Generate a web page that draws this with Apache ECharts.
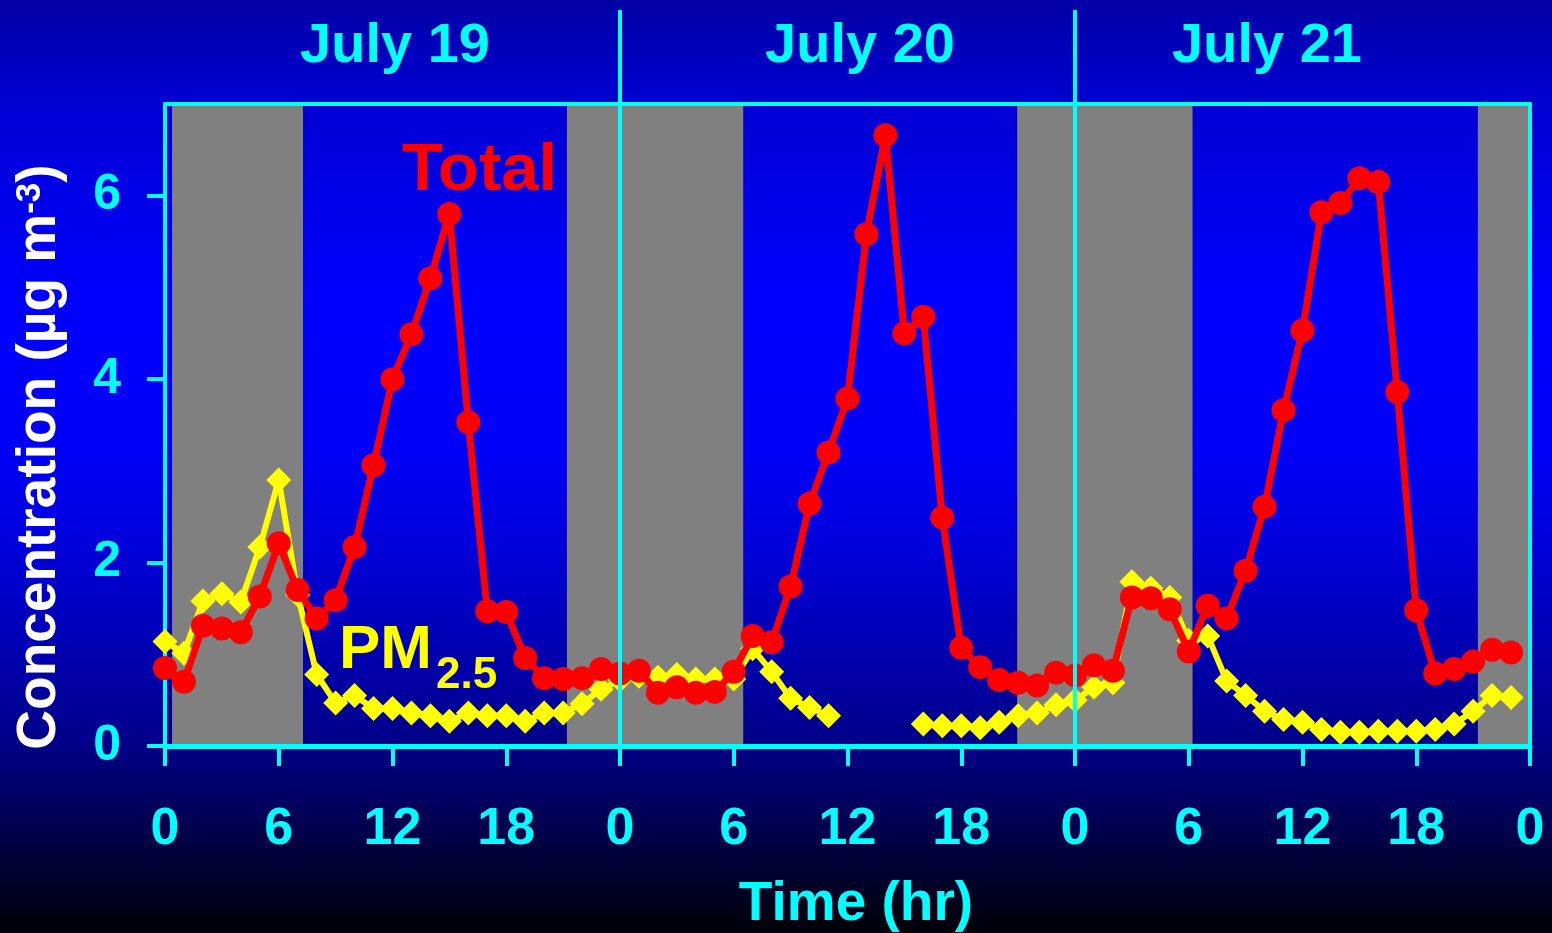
<!DOCTYPE html>
<html><head><meta charset="utf-8">
<script src="https://cdn.jsdelivr.net/npm/echarts@6/dist/echarts.min.js"></script>
<style>html,body{margin:0;padding:0;background:#000010}#c{width:1552px;height:933px}</style>
</head><body><div id="c"></div>
<script>
// ---- data ----
const hours = [0,1,2,3,4,5,6,7,8,9,10,11,12,13,14,15,16,17,18,19,20,21,22,23,
  24,25,26,27,28,29,30,31,32,33,34,35,36,37,38,39,40,41,42,43,44,45,46,47,
  48,49,50,51,52,53,54,55,56,57,58,59,60,61,62,63,64,65,66,67,68,69,70,71];
const totalConc = [0.85,0.70,1.31,1.28,1.24,1.63,2.21,1.70,1.39,1.59,2.17,3.06,4.00,4.49,5.10,5.80,3.53,1.47,1.46,0.96,0.74,0.73,0.74,0.84,
  0.79,0.82,0.58,0.64,0.58,0.59,0.81,1.20,1.13,1.74,2.64,3.20,3.79,5.58,6.66,4.50,4.68,2.49,1.07,0.86,0.72,0.69,0.66,0.80,
  0.77,0.88,0.82,1.62,1.61,1.49,1.03,1.53,1.39,1.91,2.61,3.66,4.53,5.82,5.92,6.19,6.15,3.86,1.48,0.79,0.84,0.92,1.05,1.02];
const pm25Conc = [1.14,1.01,1.58,1.66,1.57,2.17,2.90,1.65,0.78,0.47,0.55,0.41,0.41,0.36,0.33,0.27,0.36,0.33,0.33,0.27,0.36,0.36,0.46,0.62,
  0.72,0.76,0.75,0.78,0.73,0.73,0.73,1.06,0.81,0.52,0.42,0.33,null,null,null,null,0.24,0.22,0.22,0.20,0.26,0.33,0.36,0.45,
  0.50,0.64,0.69,1.79,1.72,1.62,1.15,1.20,0.71,0.55,0.38,0.29,0.26,0.18,0.15,0.15,0.16,0.16,0.16,0.18,0.24,0.38,0.55,0.53];
const nightBands = [[0.37,7.28],[21.2,30.5],[44.95,54.2],[69.25,72]];
const dayDividers = [24,48];
const dayLabels = ['July 19','July 20','July 21'];
const yTickValues = [0,2,4,6];
const seriesNames = ['Total','PM','2.5'];
const yTitleParts = ['Concentration (µg m','-3',')'];
const xTitle = 'Time (hr)';

// ---- chart ----
const FONT = "'Liberation Sans', Arial, Helvetica, sans-serif";
const CYAN = '#00ffff';
const chart = echarts.init(document.getElementById('c'), null, {renderer:'canvas'});

const totalData = hours.map((h,i)=>[h,totalConc[i]]);
const pmData = hours.map((h,i)=>[h,pm25Conc[i]]);

const option = {
  animation:false,
  backgroundColor:{type:'linear',x:0,y:0,x2:0,y2:1,colorStops:[
    {offset:0,color:'#0000a6'},
    {offset:0.11,color:'#0000d2'},
    {offset:0.32,color:'#0000ff'},
    {offset:0.48,color:'#0000f8'},
    {offset:0.58,color:'#0000dc'},
    {offset:0.70,color:'#0000b0'},
    {offset:0.80,color:'#000086'},
    {offset:0.89,color:'#00004c'},
    {offset:1,color:'#000008'}]},
  grid:{left:165,right:22,top:104,bottom:187,containLabel:false},
  xAxis:[{
    type:'value',min:0,max:72,interval:6,position:'bottom',z:3,
    axisLine:{show:true,onZero:false,lineStyle:{color:CYAN,width:5}},
    axisTick:{show:true,inside:false,length:20,lineStyle:{color:CYAN,width:4}},
    axisLabel:{show:true,margin:58,color:CYAN,fontSize:52,fontWeight:'bold',fontFamily:FONT,lineHeight:52,
      formatter:v=>String(v%24)},
    splitLine:{show:false}
  },{
    type:'value',min:0,max:72,position:'top',z:3,
    axisLine:{show:true,onZero:false,lineStyle:{color:CYAN,width:4}},
    axisTick:{show:false},axisLabel:{show:false},splitLine:{show:false}
  }],
  yAxis:[{
    type:'value',min:0,max:7,interval:1,position:'left',z:3,
    axisLine:{show:true,onZero:false,lineStyle:{color:CYAN,width:4}},
    axisTick:{show:true,inside:false,length:18,customValues:yTickValues,lineStyle:{color:CYAN,width:4}},
    axisLabel:{show:true,margin:44,color:CYAN,fontSize:50,fontWeight:'bold',fontFamily:FONT,customValues:yTickValues},
    splitLine:{show:false}
  },{
    type:'value',min:0,max:7,position:'right',z:3,
    axisLine:{show:true,onZero:false,lineStyle:{color:CYAN,width:4}},
    axisTick:{show:false},axisLabel:{show:false},splitLine:{show:false}
  }],
  series:[{
    type:'line',name:'bands',data:[],z:1,silent:true,
    markArea:{silent:true,itemStyle:{color:'#808080',opacity:1},
      data:nightBands.map(b=>[{xAxis:b[0],yAxis:0},{xAxis:b[1],yAxis:7}])}
  },{
    type:'line',name:'PM2.5',data:pmData,z:4,connectNulls:false,
    symbol:'diamond',symbolSize:[25,25],showAllSymbol:true,
    lineStyle:{color:'#ffff00',width:6},itemStyle:{color:'#ffff00'}
  },{
    type:'line',name:'Total',data:totalData,z:5,
    symbol:'circle',symbolSize:24,showAllSymbol:true,
    lineStyle:{color:'#ff0000',width:7},itemStyle:{color:'#ff0000'}
  }]
};
chart.setOption(option);

// overlays (dividers and texts)
const y0 = chart.convertToPixel({yAxisIndex:0},0);
const dayCenters = [395,860,1267];
const graphics = [];
dayDividers.forEach(d=>{
  const x = chart.convertToPixel({xAxisIndex:0},d);
  graphics.push({type:'line',z:10,silent:true,
    shape:{x1:x,y1:10,x2:x,y2:y0},style:{stroke:CYAN,lineWidth:4}});
});
dayLabels.forEach((t,i)=>{
  graphics.push({type:'text',z:10,silent:true,x:dayCenters[i],y:47,
    style:{text:t,fill:CYAN,font:`bold 56px ${FONT}`,align:'center',verticalAlign:'middle'}});
});
graphics.push({type:'text',z:10,silent:true,x:402,y:172,
  style:{text:seriesNames[0],fill:'#ff0000',font:`bold 67px ${FONT}`,align:'left',verticalAlign:'middle'}});
graphics.push({type:'text',z:10,silent:true,x:339,y:651,
  style:{text:seriesNames[1],fill:'#ffff00',font:`bold 62px ${FONT}`,align:'left',verticalAlign:'middle'}});
graphics.push({type:'text',z:10,silent:true,x:436,y:676,
  style:{text:seriesNames[2],fill:'#ffff00',font:`bold 44px ${FONT}`,align:'left',verticalAlign:'middle'}});
graphics.push({type:'text',z:10,silent:true,x:856,y:905,
  style:{text:xTitle,fill:CYAN,font:`bold 55px ${FONT}`,align:'center',verticalAlign:'middle'}});
graphics.push({type:'text',z:10,silent:true,x:40,y:457,rotation:Math.PI/2,
  style:{text:`{m|${yTitleParts[0]}}{s|${yTitleParts[1]}}{m|${yTitleParts[2]}}`,
    align:'center',verticalAlign:'middle',
    rich:{m:{fill:'#ffffff',fontSize:55,fontWeight:'bold',fontFamily:FONT},
          s:{fill:'#ffffff',fontSize:35,fontWeight:'bold',fontFamily:FONT,verticalAlign:'top'}}}});
chart.setOption({graphic:graphics});
</script>
</body></html>
